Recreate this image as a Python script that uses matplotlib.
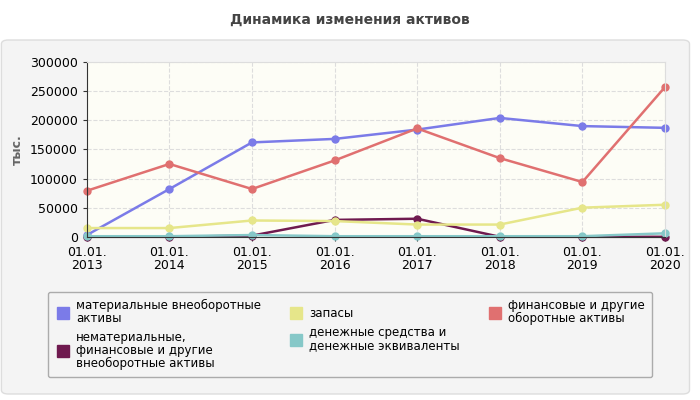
import matplotlib
matplotlib.use("Agg")
import matplotlib.pyplot as plt
from matplotlib.patches import FancyBboxPatch

years = ["01.01.\n2013", "01.01.\n2014", "01.01.\n2015", "01.01.\n2016",
         "01.01.\n2017", "01.01.\n2018", "01.01.\n2019", "01.01.\n2020"]
fixed_assets = [3000, 82000, 162000, 168000, 184000, 204000, 190000, 187000]
intangible = [0, 0, 2000, 29000, 31000, 0, 0, 0]
stocks = [15000, 15000, 28000, 27000, 21000, 21000, 50000, 55000]
cash = [1000, 1000, 3000, 1000, 1000, 1000, 1000, 6000]
financial = [79000, 125000, 82000, 131000, 186000, 135000, 94000, 257000]

series = [
    ("материальные внеоборотные\nактивы", fixed_assets, "#7b7be8"),
    ("нематериальные,\nфинансовые и другие\nвнеоборотные активы", intangible, "#6f1a4f"),
    ("запасы", stocks, "#e6e68a"),
    ("денежные средства и\nденежные эквиваленты", cash, "#86c8c8"),
    ("финансовые и другие\nоборотные активы", financial, "#e07070"),
]

fig = plt.figure(figsize=(7, 4), dpi=100)
fig.patch.set_facecolor("white")
bg = FancyBboxPatch((0.002, 0.015), 0.983, 0.885, boxstyle="round,pad=0,rounding_size=0.01",
                    transform=fig.transFigure, facecolor="#f4f4f4", edgecolor="#dddddd", lw=1, zorder=-10)
fig.patches.append(bg)
fig.text(0.5, 0.95, "Динамика изменения активов", ha="center", va="center",
         fontsize=10, fontweight="bold", color="#444444")

ax = fig.add_axes([0.124, 0.408, 0.826, 0.437])
ax.set_facecolor("#fdfdf6")
x = range(len(years))
for name, vals, col in series:
    ax.plot(x, vals, color=col, lw=1.8, marker="o", ms=5, label=name, clip_on=False)
ax.set_xlim(0, len(years) - 1)
ax.set_ylim(0, 300000)
ax.set_yticks(range(0, 300001, 50000))
ax.set_xticks(list(x))
ax.set_xticklabels(years, fontsize=9, linespacing=1.0)
ax.tick_params(labelsize=9, length=3, color="#333333")
ax.grid(True, ls="--", color="#dddddd", lw=0.8)
for s in ["top", "right"]:
    ax.spines[s].set_color("#dddddd")
ax.spines["left"].set_color("#333333")
ax.spines["bottom"].set_color("#333333")
ax.set_ylabel("тыс.", fontsize=9, color="#666666", fontweight="bold")

leg = fig.legend(loc="upper left", bbox_to_anchor=(0.06, 0.045, 0.88, 0.24), mode="expand",
                 ncol=3, fontsize=8.5, frameon=True, handlelength=1.4, handleheight=0.8,
                 labelspacing=0.5, columnspacing=1.0, borderpad=0.6, handletextpad=0.4)
for h in leg.legend_handles:
    h.set_marker("s")
    h.set_markersize(9)
    h.set_linewidth(0)
for t in leg.get_texts():
    t.set_linespacing(1.0)
leg.get_frame().set_edgecolor("#999999")
leg.get_frame().set_facecolor("#f4f4f4")

fig.savefig("out.png", dpi=100)
